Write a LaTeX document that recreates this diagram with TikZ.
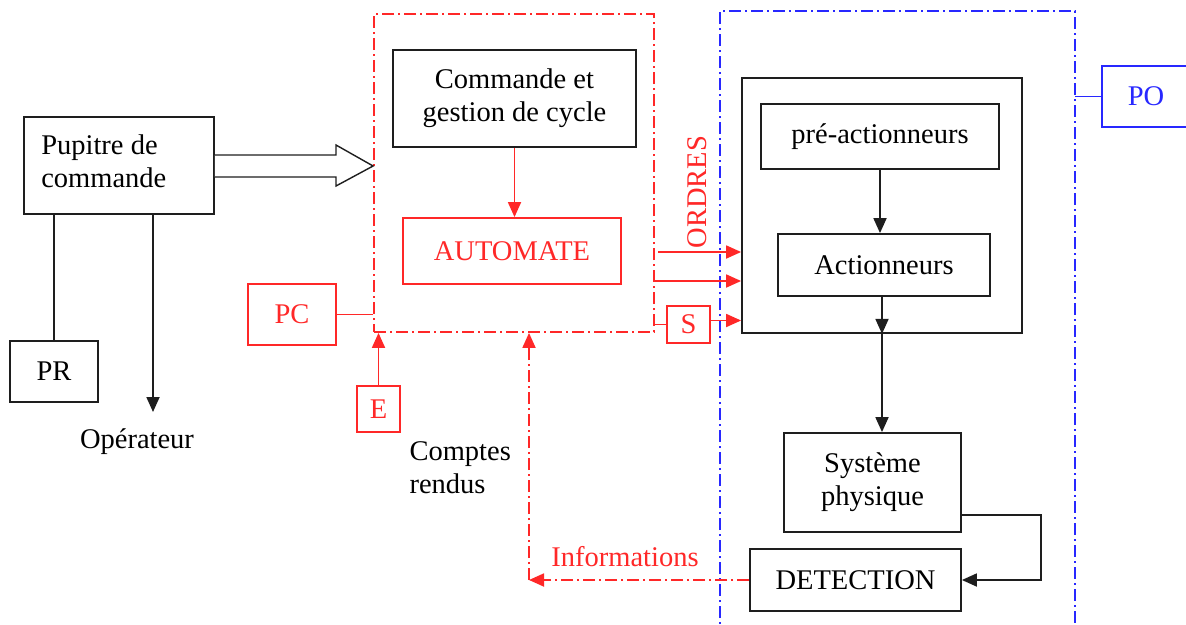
\documentclass[tikz,border=0pt]{standalone}
\usepackage{fontspec}
\setmainfont{Liberation Serif}
\usetikzlibrary{arrows.meta,calc}
\definecolor{rd}{RGB}{255,40,40}
\definecolor{bl}{RGB}{40,40,255}
\definecolor{dk}{RGB}{30,30,30}
\begin{document}
\begin{tikzpicture}[x=1pt,y=-1pt,
  txt/.style={font=\fontsize{28.5}{33}\selectfont},
  bbox/.style={draw=dk,line width=1.8pt,inner sep=0pt,txt,align=center},
  rbox/.style={draw=rd,line width=1.8pt,inner sep=0pt,txt,text=rd,align=center},
  blbox/.style={draw=bl,line width=1.8pt,inner sep=0pt,txt,text=bl,align=center},
  dd/.style={dash pattern=on 12pt off 4pt on 2pt off 4pt},
  blk/.style={draw=dk,line width=1.8pt},
  blkarr/.style={blk,-{Triangle[length=15pt,width=13pt]}},
  red/.style={draw=rd,line width=1.8pt},
  redarr/.style={red,-{Triangle[length=15pt,width=13pt]}},
]
\useasboundingbox (0,0) rectangle (1186,624);
% left part
\node[bbox,minimum width=190pt,minimum height=97pt] (pup) at (119,165.5) {};
\node[txt,align=left,anchor=west,inner sep=0pt] (puptxt) at ([xshift=18pt,yshift=4pt]pup.west) {Pupitre de\\commande};
\node[bbox,minimum width=88pt,minimum height=61pt] (pr) at (54,371.5) {PR};
\coordinate (opend) at (153,412);
\node[txt] (op) at (137,442) {Opérateur};
\draw[blk] (pr.north |- pup.south) -- (pr.north);
\draw[blkarr] (pup.south -| opend) -- (opend);
% PC part
\node[draw=rd,line width=1.8pt,dd,minimum width=280pt,minimum height=318pt,inner sep=0pt] (pcbox) at (514,173) {};
\node[bbox,minimum width=243pt,minimum height=97pt] (cmd) at (514.5,98.5) {Commande et\\gestion de cycle};
\node[rbox,minimum width=218pt,minimum height=66pt] (aut) at (512,251) {AUTOMATE};
\node[rbox,minimum width=88pt,minimum height=61pt] (pc) at (292,314.5) {PC};
\node[rbox,minimum width=43pt,minimum height=46pt] (e) at (378.5,409) {E};
\node[rbox,minimum width=43pt,minimum height=37pt] (s) at (688.5,324.5) {S};
\draw[redarr] (cmd.south) -- (cmd.south |- aut.north);
\draw[red] (pc.east) -- (pc.east -| pcbox.west);
\draw[redarr] (e.north) -- (e.north |- pcbox.south);
% hollow arrow
\draw[dk,line width=1.4pt,fill=white] (pup.east |- 0,155) -- (336,155) -- (336,145) -- (pcbox.west |- 0,166) -- (336,186) -- (336,177) -- (pup.east |- 0,177);
% PO part
\draw[bl,line width=1.8pt,dd] (720,640) coordinate (bl1) -- (720,11) coordinate (bl2) -- (1075,11) coordinate (bl3) -- (1075,640) coordinate (bl4);
\node[blbox,minimum width=88pt,minimum height=61pt] (po) at (1146,96.5) {PO};
\draw[bl,line width=1.8pt] (po.west -| bl3) -- (po.west);
\node[draw=dk,line width=1.8pt,minimum width=280pt,minimum height=255pt,inner sep=0pt] (outer) at (882,205.5) {};
\node[bbox,minimum width=238pt,minimum height=65pt] (pre) at (880,136.5) {pré-actionneurs};
\node[bbox,minimum width=212pt,minimum height=62pt] (act) at (884,265) {Actionneurs};
\node[bbox,minimum width=177pt,minimum height=99pt] (sys) at (872.5,482.5) {Système\\physique};
\node[bbox,minimum width=211pt,minimum height=62pt] (det) at (855.5,580) {DETECTION};
\draw[blkarr] (pre.south) -- (pre.south |- act.north);
\draw[blkarr] (act.south -| outer.south) -- (outer.south);
\draw[blkarr] (outer.south) -- (outer.south |- sys.north);
\draw[blkarr] ([yshift=-32.5pt]sys.east) -- ++(79,0) |- (det.east);
% orders
\coordinate (o1) at (658,252);
\coordinate (o2) at (654,281);
\draw[redarr] (o1) -- (o1 -| outer.west);
\draw[redarr] (o2) -- (o2 -| outer.west);
\draw[red] (s.west -| pcbox.east) -- (s.west);
\draw[redarr] ([yshift=4pt]s.east) -- ([yshift=4pt]s.east -| outer.west);
\node[txt,text=rd,rotate=90] (ordres) at (697,192) {ORDRES};
% feedback
\coordinate (corner) at (529,580);
\draw[redarr,dd] (det.west) -- (corner);
\draw[redarr,dd] (corner) -- (corner |- pcbox.south);
\node[txt,text=rd] (info) at (625,557) {Informations};
\node[txt,align=left,anchor=west] (cr) at (406,467.5) {Comptes\\rendus};
\end{tikzpicture}
\end{document}
